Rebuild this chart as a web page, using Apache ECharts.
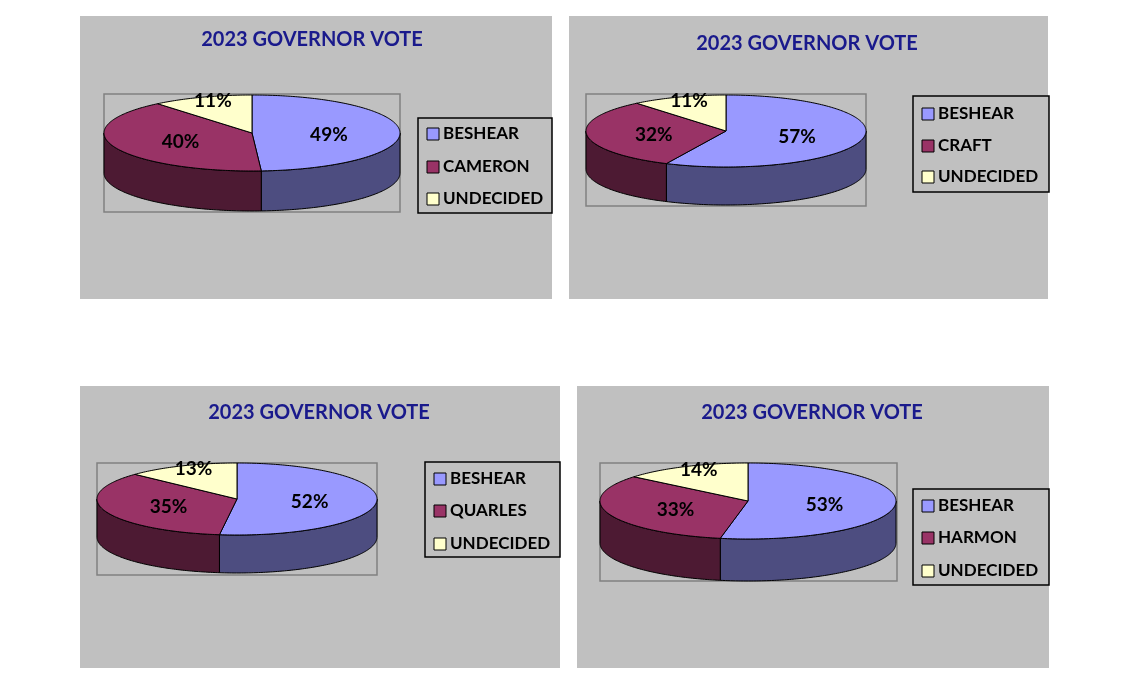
<!DOCTYPE html>
<html><head><meta charset="utf-8">
<script src="https://cdn.jsdelivr.net/npm/echarts@6/dist/echarts.min.js"></script>
<style>html,body{margin:0;padding:0;background:#fff}#c{width:1140px;height:682px}</style>
</head><body><div id="c"></div>
<script>
const titles = ["2023 GOVERNOR VOTE","2023 GOVERNOR VOTE","2023 GOVERNOR VOTE","2023 GOVERNOR VOTE"];
const names1 = ["BESHEAR","CAMERON","UNDECIDED"];
const values1 = [49,40,11];
const names2 = ["BESHEAR","CRAFT","UNDECIDED"];
const values2 = [57,32,11];
const names3 = ["BESHEAR","QUARLES","UNDECIDED"];
const values3 = [52,35,13];
const names4 = ["BESHEAR","HARMON","UNDECIDED"];
const values4 = [53,33,14];

const topColors = ["#9999ff","#993366","#ffffcc"];
const sideColors = ["#4d4d80","#4d1a33","#80806a"];
const FONT = "Lato";

const panels = [
 {names:names1, values:values1, bg:[80,16,472,283], title:[312,40], box:[104,94,296,118], c:[252,133], rx:148, ry:38, d:40, lg:[418,118,134,95], rows:[134,167,199]},
 {names:names2, values:values2, bg:[569,16,479,283], title:[807,44], box:[586,94,280,112], c:[726,131], rx:140, ry:36, d:38, lg:[913,96,136,96], rows:[114,146,177]},
 {names:names3, values:values3, bg:[80,386,480,282], title:[319,413], box:[97,463,280,112], c:[237,499], rx:140, ry:36, d:38, lg:[425,462,135,95], rows:[479,511,544]},
 {names:names4, values:values4, bg:[577,386,472,282], title:[812,413], box:[600,463,297,118], c:[748,501], rx:148, ry:38, d:42, lg:[913,489,136,96], rows:[506,538,571]}
];

const graphic = [];
panels.forEach((p,i)=>{
  graphic.push({type:'rect', shape:{x:p.bg[0],y:p.bg[1],width:p.bg[2],height:p.bg[3]}, style:{fill:'#c0c0c0'}, z:0});
  graphic.push({type:'text', x:p.title[0], y:p.title[1], style:{text:titles[i], fill:'#1a1a8c', font:'bold 20px '+FONT, align:'center', verticalAlign:'middle'}, z:1});
  graphic.push({type:'rect', shape:{x:p.box[0],y:p.box[1],width:p.box[2],height:p.box[3]}, style:{fill:'none', stroke:'#808080', lineWidth:1.5}, z:1});
  graphic.push({type:'rect', shape:{x:p.lg[0],y:p.lg[1],width:p.lg[2],height:p.lg[3]}, style:{fill:'#c0c0c0', stroke:'#000', lineWidth:1.5}, z:1});
  p.names.forEach((n,k)=>{
    graphic.push({type:'rect', shape:{x:p.lg[0]+9,y:p.rows[k]-6,width:12,height:12}, style:{fill:topColors[k], stroke:'#000', lineWidth:1}, z:2});
    graphic.push({type:'text', x:p.lg[0]+25, y:p.rows[k], style:{text:n, fill:'#000', font:'bold 17px '+FONT, verticalAlign:'middle'}, z:2});
  });
});

function pt(p, th, dy){ const r=th*Math.PI/180; return [p.c[0]+p.rx*Math.sin(r), p.c[1]-p.ry*Math.cos(r)+(dy||0)]; }

const series = panels.map((p)=>{
  const tot = p.values.reduce((a,b)=>a+b,0);
  return {
    type:'custom', coordinateSystem:'none',
    data: p.values.map((v,k)=>({name:p.names[k], value:[v,k]})),
    renderItem:function(params, api){
      const k = api.value(1);
      let s = 0; for(let j=0;j<k;j++) s+=p.values[j];
      const a = s/tot*360, b = (s+api.value(0))/tot*360;
      const children = [];
      // side wall (front half: 90..270)
      const fa = Math.max(a,90), fb = Math.min(b,270);
      if (fb > fa){
        const pts=[];
        for(let t=fa;t<=fb+1e-6;t+=1) pts.push(pt(p,Math.min(t,fb)));
        pts.push(pt(p,fb));
        const bot=[];
        for(let t=fb;t>=fa-1e-6;t-=1) bot.push(pt(p,Math.max(t,fa),p.d));
        bot.push(pt(p,fa,p.d));
        children.push({type:'polygon', shape:{points:pts.concat(bot)}, style:{fill:sideColors[k], stroke:'#000', lineWidth:1}});
      }
      const tp=[p.c.slice()];
      for(let t=a;t<=b+1e-6;t+=1) tp.push(pt(p,Math.min(t,b)));
      tp.push(pt(p,b));
      children.push({type:'polygon', shape:{points:tp}, style:{fill:topColors[k], stroke:'#000', lineWidth:1}});
      const mid=(a+b)/2, rr = (b-a)<60?0.78:0.52;
      const r=mid*Math.PI/180;
      children.push({type:'text', x:p.c[0]+p.rx*rr*Math.sin(r), y:p.c[1]-p.ry*rr*Math.cos(r)+ (k==2?-4:2),
        style:{text:api.value(0)+'%', fill:'#000', font:'bold 19px '+FONT, align:'center', verticalAlign:'middle'}});
      return {type:'group', children};
    },
    z:5
  };
});

const chart = echarts.init(document.getElementById('c'));
chart.setOption({animation:false, graphic, series});
</script></body></html>
